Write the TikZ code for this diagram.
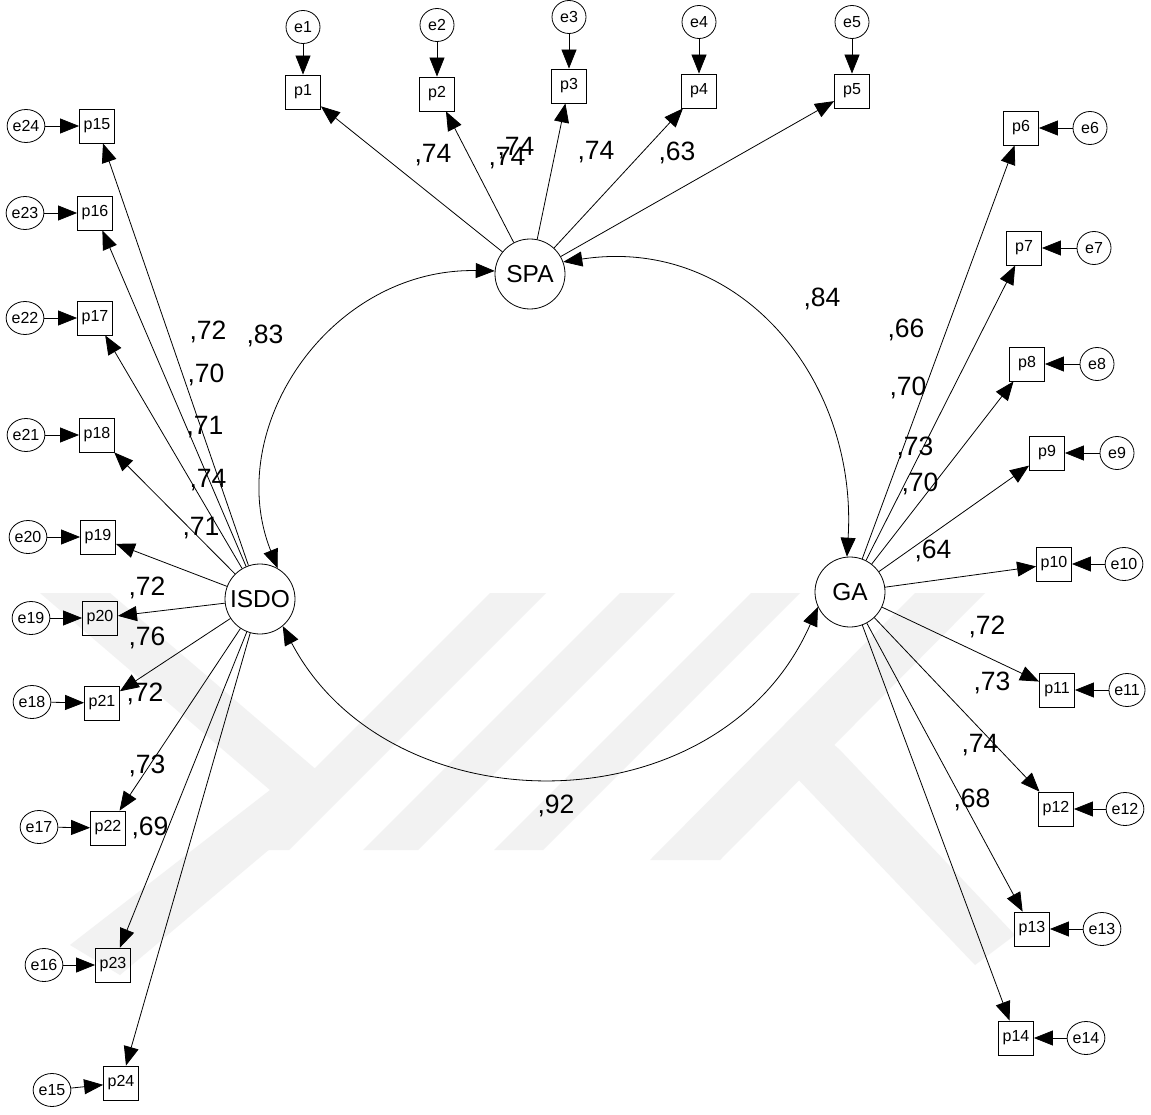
\documentclass[tikz,border=0pt]{standalone}
\usepackage{fontspec}
\setmainfont{Liberation Sans}
\usetikzlibrary{arrows.meta,shapes.geometric}
\begin{document}
\begin{tikzpicture}[x=1pt,y=-1pt,
  lat/.style={circle,draw,fill=white,line width=0.8pt,minimum size=70pt,inner sep=0pt,font=\fontsize{24.5}{27}\selectfont},
  ind/.style={rectangle,draw,line width=0.8pt,minimum width=35pt,minimum height=34pt,inner sep=0pt,font=\fontsize{16}{18}\selectfont},
  err/.style={ellipse,draw,fill=white,line width=0.8pt,minimum width=34pt,minimum height=33pt,inner sep=0pt,font=\fontsize{16}{18}\selectfont},
  lbl/.style={inner sep=0pt,font=\fontsize{26.5}{29}\selectfont},
  arr/.style={line width=0.8pt,-{Triangle[length=19pt,width=15pt]}},
  dbl/.style={line width=0.8pt,{Triangle[length=19pt,width=15pt]}-{Triangle[length=19pt,width=15pt]}},
  wm/.style={fill=black!5,draw=none}
]
\useasboundingbox (0,0) rectangle (1151,1115);
\fill[white] (0,0) rectangle (1151,1115);

% faint background watermark
\fill[wm] (40,593) -- (110,593) -- (340,790) -- (120,975) -- (70,945) -- (270,790) -- cycle;
\fill[wm] (490,593) -- (546,593) -- (289,850) -- (233,850) -- cycle;
\fill[wm] (620,593) -- (675,593) -- (418,850) -- (363,850) -- cycle;
\fill[wm] (751,593) -- (800,593) -- (543,850) -- (494,850) -- cycle;
\fill[wm] (915,593) -- (985,593) -- (720,860) -- (650,860) -- cycle;
\fill[wm] (800,715) -- (840,750) -- (1015,935) -- (975,965) -- (775,755) -- cycle;

% latent variables
\node[lat] (SPA) at (530,274) {SPA};
\node[lat] (ISDO) at (260,599) {ISDO};
\node[lat] (GA) at (850,592) {GA};

% top indicators
\foreach \n/\x/\ey/\py in {1/303/27/92, 2/437/25/94, 3/569/17/86, 4/699/22/91, 5/852/22/91}{
  \node[ind] (p\n) at (\x,\py) {p\n};
  \node[err] (e\n) at (\x,\ey) {e\n};
  \draw[arr] (e\n) -- (p\n);
  \draw[arr] (SPA) -- (p\n);
}

% right indicators
\foreach \n/\px/\ex/\y in {6/1021/1090/128, 7/1024/1094/248, 8/1027/1097/364, 9/1047/1117/453, 10/1054/1124/564, 11/1057/1127/690, 12/1056/1125/809, 13/1032/1102/929, 14/1016/1086/1038}{
  \node[ind] (p\n) at (\px,\y) {p\n};
  \node[err] (e\n) at (\ex,\y) {e\n};
  \draw[arr] (e\n) -- (p\n);
  \draw[arr] (GA) -- (p\n);
}

% left indicators
\foreach \n/\en/\px/\ex/\py/\ey in {15/24/97/26/126/126, 16/23/95/25/213/213, 17/22/95/25/318/318, 18/21/97/26/435/435, 19/20/98/28/537/537, 20/19/100/31/618/618, 21/18/102/32/703/702, 22/17/108/39/828/827, 23/16/113/44/965/965, 24/15/121/52/1083/1090}{
  \node[ind] (p\n) at (\px,\py) {p\n};
  \node[err] (e\en) at (\ex,\ey) {e\en};
  \draw[arr] (e\en) -- (p\n);
  \draw[arr] (ISDO) -- (p\n);
}

% covariances
\draw[dbl] (SPA.175) .. controls (330,268) and (222,428) .. (ISDO.60);
\draw[dbl] (SPA.20) .. controls (740,235) and (858,380) .. (GA.95);
\draw[dbl] (ISDO.-50) .. controls (390,830) and (720,830) .. (GA.205);

% labels
\node[lbl] (t1) at (433,155) {,74};
\node[lbl] (t2) at (507,158) {,74};
\node[lbl] (t3) at (516,148) {,74};
\node[lbl] (t4) at (596,152) {,74};
\node[lbl] (t5) at (677,153) {,63};

\node[lbl] (l1) at (208,332) {,72};
\node[lbl] (l2) at (265,336) {,83};
\node[lbl] (l3) at (206,375) {,70};
\node[lbl] (l4) at (205,427) {,71};
\node[lbl] (l5) at (208,480) {,74};
\node[lbl] (l6) at (201,528) {,71};
\node[lbl] (l7) at (147,588) {,72};
\node[lbl] (l8) at (147,638) {,76};
\node[lbl] (l9) at (145,694) {,72};
\node[lbl] (l10) at (147,766) {,73};
\node[lbl] (l11) at (150,828) {,69};

\node[lbl] (r1) at (822,299) {,84};
\node[lbl] (r2) at (906,330) {,66};
\node[lbl] (r3) at (908,388) {,70};
\node[lbl] (r4) at (915,448) {,73};
\node[lbl] (r5) at (920,484) {,70};
\node[lbl] (r6) at (933,551) {,64};
\node[lbl] (r7) at (987,627) {,72};
\node[lbl] (r8) at (992,683) {,73};
\node[lbl] (r9) at (980,745) {,74};
\node[lbl] (r10) at (972,800) {,68};

\node[lbl] (b1) at (556,806) {,92};
\end{tikzpicture}
\end{document}
